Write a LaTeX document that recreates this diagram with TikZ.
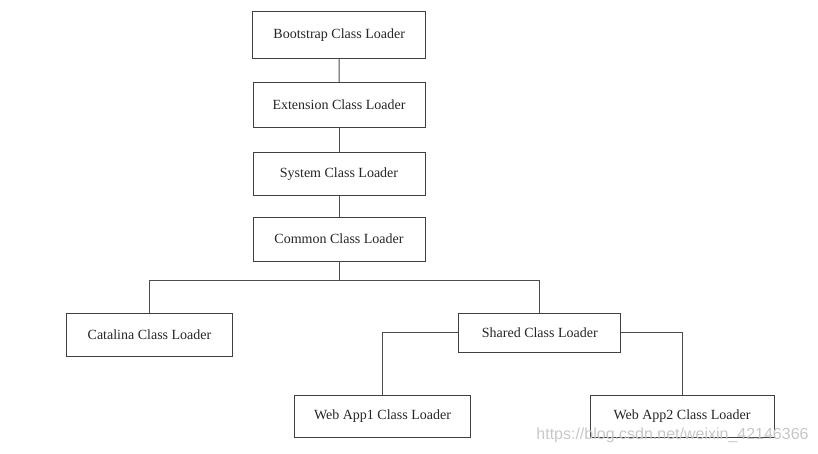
\documentclass[tikz,border=0pt]{standalone}
\usepackage{fontspec}
\setmainfont{Liberation Serif}
\newfontfamily\wmfont{Liberation Sans}
\begin{document}
\begin{tikzpicture}[x=1pt,y=-1pt,
  box/.style={draw=black!75, line width=0.9pt, fill=white, inner sep=0pt,
    font=\fontsize{14}{16}\selectfont, text=black!85},
  link/.style={draw=black!70, line width=0.9pt}]
\useasboundingbox (0,0) rectangle (818,453);
\node[box, minimum width=173pt, minimum height=47pt] (boot) at (339.2,34.7) {Bootstrap Class Loader};
\node[box, minimum width=172pt, minimum height=45pt] (ext) at (339,104.7) {Extension Class Loader};
\node[box, minimum width=172pt, minimum height=43pt] (sys) at (339,173.8) {System Class Loader};
\node[box, minimum width=172pt, minimum height=44pt] (com) at (339,239) {Common Class Loader};
\node[box, minimum width=166pt, minimum height=43pt] (cat) at (149.5,335) {Catalina Class Loader};
\node[box, minimum width=162pt, minimum height=39pt] (sha) at (539.8,332.8) {Shared Class Loader};
\node[box, minimum width=176pt, minimum height=42pt] (wa1) at (382.5,416.5) {Web App1 Class Loader};
\node[box, minimum width=184pt, minimum height=42pt] (wa2) at (682,416.5) {Web App2 Class Loader};
\coordinate (split) at (339,280.7);
\draw[link] (boot) -- (ext);
\draw[link] (ext) -- (sys);
\draw[link] (sys) -- (com);
\draw[link] (com.south) -- (split);
\draw[link] (split) -| (cat.north);
\draw[link] (split) -| (sha.north);
\draw[link] (sha.west) -| (wa1.north);
\draw[link] (sha.east) -| (wa2.north);
\node[font=\wmfont\fontsize{16}{18}\selectfont, text=black!22, inner sep=0pt] (wm) at (672.5,435) {https://blog.csdn.net/weixin\_42146366};
\end{tikzpicture}
\end{document}
